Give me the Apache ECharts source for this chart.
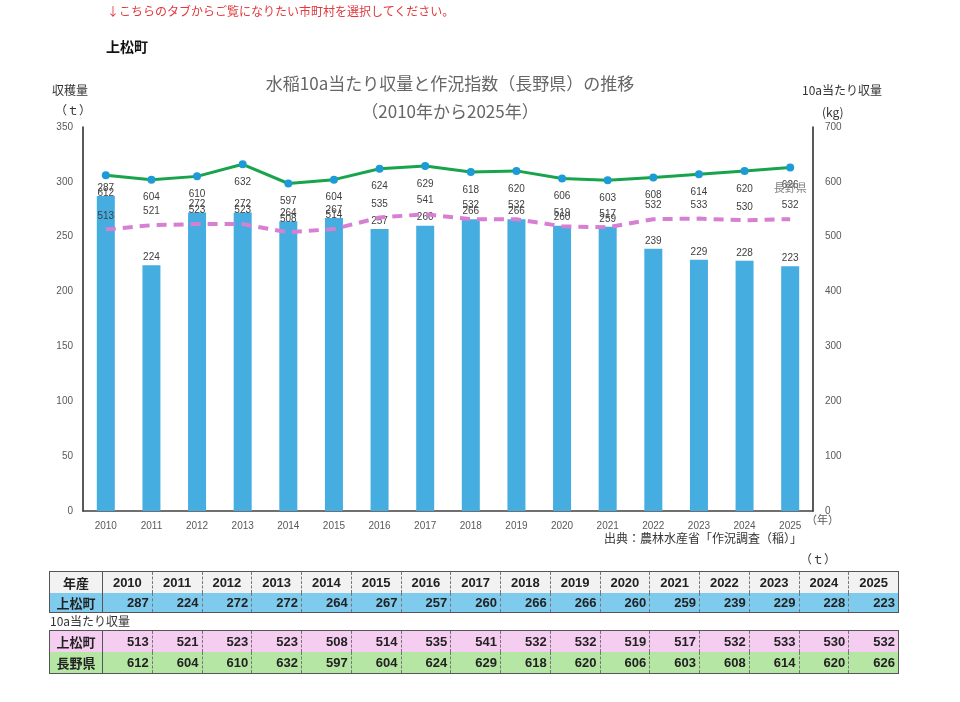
<!DOCTYPE html>
<html>
<head>
<meta charset="utf-8">
<script src="https://cdn.jsdelivr.net/npm/echarts@6/dist/echarts.min.js"></script>
<style>
  body { margin: 0; background: #fff; font-family: "Noto Sans CJK JP", sans-serif; }
  #wrap { position: relative; width: 960px; height: 702px; }
  #chart { position: absolute; left: 0; top: 0; width: 960px; height: 702px; }
  .note { position: absolute; left: 107px; top: 2px; font-size: 12px; color: #e0393e; }
  .town { position: absolute; left: 106px; top: 36px; font-size: 14px; font-weight: bold; color: #111; }
  table { position: absolute; left: 49px; width: 850px; table-layout: fixed; border-collapse: collapse; font-family: "Liberation Sans", "Noto Sans CJK JP", sans-serif; font-weight: bold; font-size: 13px; color: #222; }
  td { border-left: 1px dashed #777; padding: 0 3px; text-align: right; }
  td.h { text-align: center; width: 46px; border-left: none; border-right: 1px solid #555; font-family: "Noto Sans CJK JP", sans-serif; }
  tr.head td { text-align: center; background: #f2f2f2; height: 21px; }
  tr.blue td { background: #7ecbee; height: 18px; }
  tr.pink td { background: #f5cdf1; height: 21px; }
  tr.green td { background: #b6e6a3; height: 21px; }
  .t1 { top: 571px; border: 1px solid #555; }
  .t2 { top: 630px; border: 1px solid #555; }
  .lbl10 { position: absolute; left: 50px; top: 612px; font-size: 12px; color: #333; }
</style>
</head>
<body>
<div id="wrap">
  <div id="chart"></div>
  <div class="note">↓こちらのタブからご覧になりたい市町村を選択してください。</div>
  <div class="town">上松町</div>
  <table class="t1" id="t1"></table>
  <div class="lbl10">10a当たり収量</div>
  <table class="t2" id="t2"></table>
</div>
<script>
const years = ['2010', '2011', '2012', '2013', '2014', '2015', '2016', '2017',
  '2018', '2019', '2020', '2021', '2022', '2023', '2024', '2025'];
// 上松町 収穫量 (t)
const harvest = [287, 224, 272, 272, 264, 267, 257, 260, 266, 266, 260, 259, 239, 229, 228, 223];
// 10a当たり収量 (kg)
const townYield = [513, 521, 523, 523, 508, 514, 535, 541, 532, 532, 519, 517, 532, 533, 530, 532];
const prefYield = [612, 604, 610, 632, 597, 604, 624, 629, 618, 620, 606, 603, 608, 614, 620, 626];

// tables
function row(cls, head, vals) {
  return '<tr class="' + cls + '"><td class="h">' + head + '</td>' +
    vals.map((v) => '<td>' + v + '</td>').join('') + '</tr>';
}
document.getElementById('t1').innerHTML =
  row('head', '年産', years) + row('blue', '上松町', harvest);
document.getElementById('t2').innerHTML =
  row('pink', '上松町', townYield) + row('green', '長野県', prefYield);

const chart = echarts.init(document.getElementById('chart'));
const labelFont = { color: '#404040', fontSize: 10, fontFamily: 'Liberation Sans, sans-serif' };
const option = {
  animation: false,
  textStyle: { fontFamily: 'Noto Sans CJK JP, sans-serif' },
  title: {
    text: '水稲10a当たり収量と作況指数（長野県）の推移\n（2010年から2025年）',
    left: 445,
    textAlign: 'center',
    top: 65,
    textStyle: { color: '#666', fontSize: 17, fontWeight: 'normal', lineHeight: 28 },
  },
  grid: { left: 83, right: 147, top: 127, bottom: 191 },
  xAxis: {
    type: 'category',
    data: years,
    axisLine: { lineStyle: { color: '#404040', width: 1.5 } },
    axisTick: { show: false },
    axisLabel: { color: '#595959', fontSize: 10, fontFamily: 'Liberation Sans, sans-serif', margin: 10 },
  },
  yAxis: [
    {
      type: 'value',
      min: 0,
      max: 350,
      interval: 50,
      splitLine: { show: false },
      axisLine: { show: true, lineStyle: { color: '#222', width: 1.5 } },
      axisLabel: { color: '#595959', fontSize: 10, fontFamily: 'Liberation Sans, sans-serif', margin: 10 },
    },
    {
      type: 'value',
      min: 0,
      max: 700,
      interval: 100,
      splitLine: { show: false },
      axisLine: { show: true, lineStyle: { color: '#222', width: 1.5 } },
      axisLabel: { color: '#595959', fontSize: 10, fontFamily: 'Liberation Sans, sans-serif', margin: 12 },
    },
  ],
  series: [
    {
      name: '上松町収穫量',
      type: 'bar',
      data: harvest,
      barWidth: 18,
      itemStyle: { color: '#45ade0' },
      label: { show: true, position: 'top', distance: 3, ...labelFont },
    },
    {
      name: '上松町',
      type: 'line',
      yAxisIndex: 1,
      data: townYield,
      symbol: 'circle',
      symbolSize: 1,
      showSymbol: true,
      itemStyle: { color: 'rgba(0,0,0,0)' },
      lineStyle: { color: '#d77fd2', width: 4, type: [10, 7] },
      label: { show: true, position: 'top', distance: 8, ...labelFont },
      labelLayout: { hideOverlap: false },
      z: 3,
    },
    {
      name: '長野県',
      type: 'line',
      yAxisIndex: 1,
      data: prefYield,
      symbol: 'circle',
      symbolSize: 8,
      itemStyle: { color: '#1d9bd7' },
      lineStyle: { color: '#18a44b', width: 3 },
      label: { show: true, position: 'bottom', distance: 9, ...labelFont },
      markPoint: {
        symbol: 'circle',
        symbolSize: 1,
        itemStyle: { color: 'rgba(0,0,0,0)' },
        data: [{ coord: [years.length - 1, prefYield[prefYield.length - 1]] }],
        label: { show: true, position: 'inside', formatter: '長野県', offset: [0, 20], color: '#808080', fontSize: 11 },
      },
      z: 4,
    },
  ],
  graphic: [
    { type: 'text', left: 52, top: 84, style: { text: '収穫量', fill: '#333', font: '12px "Noto Sans CJK JP"' } },
    { type: 'text', left: 55, top: 104, style: { text: '（ｔ）', fill: '#333', font: '12px "Noto Sans CJK JP"' } },
    { type: 'text', left: 802, top: 84, style: { text: '10a当たり収量', fill: '#333', font: '12px "Noto Sans CJK JP"' } },
    { type: 'text', left: 822, top: 106, style: { text: '(kg)', fill: '#333', font: '12px "Noto Sans CJK JP"' } },
    { type: 'text', left: 806, top: 514, style: { text: '（年）', fill: '#595959', font: '11px "Noto Sans CJK JP"' } },
    { type: 'text', left: 604, top: 532, style: { text: '出典：農林水産省「作況調査（稲）」', fill: '#333', font: '12px "Noto Sans CJK JP"' } },
    { type: 'text', left: 800, top: 553, style: { text: '（ｔ）', fill: '#333', font: '12px "Noto Sans CJK JP"' } },
  ],
};
chart.setOption(option);
</script>
</body>
</html>
